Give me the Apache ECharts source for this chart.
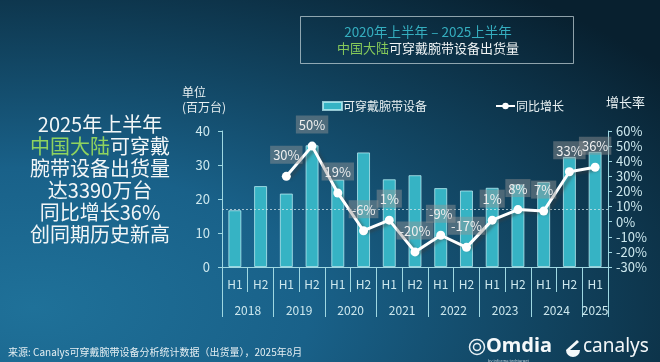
<!DOCTYPE html>
<html>
<head>
<meta charset="utf-8">
<script src="https://cdn.jsdelivr.net/npm/echarts@6/dist/echarts.min.js"></script>
<style>
  html, body { margin: 0; padding: 0; }
  body {
    width: 660px; height: 362px; overflow: hidden;
    background: radial-gradient(ellipse 120% 110% at 5% 85%, #1f7199 0%, #196189 35%, #11435f 65%, #08202f 100%);
  }
  #chart { width: 660px; height: 362px; }
</style>
</head>
<body>
<div id="chart"></div>
<script>
(function(){

    // 数据
    var halves = ['H1','H2','H1','H2','H1','H2','H1','H2','H1','H2','H1','H2','H1','H2','H1'];
    var years = ['2018','2019','2020','2021','2022','2023','2024','2025'];
    // 出货量（百万台）
    var shipments = [16.7, 23.8, 21.6, 35.8, 25.7, 33.7, 25.8, 27.0, 23.2, 22.5, 23.3, 24.3, 25.0, 32.4, 33.9];
    // 同比增长（%）
    var growth = [null, null, 30, 50, 19, -6, 1, -20, -9, -17, 1, 8, 7, 33, 36];
    var refLine = 17;

    var font = '"Noto Sans CJK SC", "Noto Sans", sans-serif';
    var axisColor = '#9fd8e2';
    var labelColor = '#cde8ee';

    // 年份轴：31个点（半个类目一格），年份放在每年的中点
    var yearSlots = [];
    for (var k = 0; k <= 30; k++) yearSlots.push('');
    for (var i = 0; i < years.length; i++) {
        var pos = i < 7 ? i * 4 + 2 : 29;
        yearSlots[pos] = years[i];
    }

    var myChart = echarts.init(document.getElementById('chart'), null, {renderer: 'canvas'});

    var option = {
        backgroundColor: 'transparent',
        textStyle: {fontFamily: font},
        animation: false,
        title: [{
            left: 423, top: 19, textAlign: 'center',
            text: '{a|2020年上半年 – 2025上半年}\n{g|中国大陆}{w|可穿戴腕带设备出货量}',
            textStyle: {
                fontWeight: 'normal',
                rich: {
                    a: {color: '#35aebf', fontSize: 13.5, lineHeight: 16, fontFamily: font, fontWeight: 'normal'},
                    g: {color: '#86c95a', fontSize: 13, lineHeight: 16, fontFamily: font, fontWeight: 'normal'},
                    w: {color: '#f0f4f5', fontSize: 13, lineHeight: 16, fontFamily: font, fontWeight: 'normal'}
                }
            }
        }, {
            left: 95, top: 108, textAlign: 'center',
            text: '{w|2025年上半年}\n{g|中国大陆}{w|可穿戴}\n{w|腕带设备出货量}\n{w|达3390万台}\n{w|同比增长36%}\n{w|创同期历史新高}',
            textStyle: {
                fontWeight: 'normal',
                rich: {
                    w: {color: '#f2f6f7', fontSize: 20, lineHeight: 22, fontFamily: font, fontWeight: 'normal'},
                    g: {color: '#8fd35e', fontSize: 20, lineHeight: 22, fontFamily: font, fontWeight: 'normal'}
                }
            }
        }, {
            left: 3, top: 342,
            text: '来源: Canalys可穿戴腕带设备分析统计数据（出货量），2025年8月',
            textStyle: {color: '#e4eef2', fontSize: 10, fontWeight: 'normal', fontFamily: font}
        }],
        graphic: [{
            type: 'rect', left: 298, top: 14,
            shape: {width: 273, height: 47},
            style: {fill: 'none', stroke: 'rgba(200,215,220,0.7)', lineWidth: 1}
        }, {
            type: 'group', left: 467, top: 336,
            children: [
                {type: 'circle', shape: {cx: 8, cy: 11, r: 7.5}, style: {fill: 'none', stroke: '#e8f0f4', lineWidth: 1.5}},
                {type: 'circle', shape: {cx: 8, cy: 11, r: 3.5}, style: {fill: 'none', stroke: '#e8f0f4', lineWidth: 1.5}},
                {type: 'text', x: 17, y: 0, style: {text: 'Omdia', fill: '#f4f8fa', font: 'bold 20px "Noto Sans", sans-serif'}},
                {type: 'text', x: 19, y: 23, style: {text: 'by informa techtarget', fill: '#c8d8e0', font: '4px "Noto Sans", sans-serif'}},
                {type: 'sector', shape: {cx: 104, cy: 14, r0: 0, r: 7, startAngle: 0, endAngle: Math.PI}, style: {fill: '#f4f8fa'}},
                {type: 'polygon', shape: {points: [[97, 14], [108, 4], [110, 6], [101, 14]]}, style: {fill: '#f4f8fa'}},
                {type: 'text', x: 114, y: 1, style: {text: 'canalys', fill: '#f4f8fa', font: '19px "Noto Sans", sans-serif'}}
            ]
        }],
        legend: {
            left: 317, top: 95, itemGap: 68,
            itemWidth: 19, itemHeight: 8,
            textStyle: {color: '#e8f0f2', fontSize: 12, fontFamily: font, padding: [0, 0, 0, -4]},
            data: [
                {name: '可穿戴腕带设备', icon: 'rect'},
                {name: '同比增长'}
            ]
        },
        grid: {left: 222, right: 52, top: 131, bottom: 95},
        xAxis: [{
            type: 'category',
            data: halves,
            axisLine: {onZero: false, lineStyle: {color: axisColor, width: 1}},
            axisTick: {show: true, inside: false, alignWithLabel: false, interval: 0, length: 25, lineStyle: {color: axisColor}},
            axisLabel: {color: labelColor, fontSize: 12, margin: 11, interval: 0}
        }, {
            type: 'category',
            position: 'bottom',
            boundaryGap: false,
            data: yearSlots,
            axisLine: {show: false, onZero: false},
            axisTick: {
                show: true,
                inside: false,
                length: 50,
                lineStyle: {color: axisColor},
                interval: function (idx) { return idx % 4 === 0 || idx === 30; }
            },
            axisLabel: {color: labelColor, fontSize: 12, margin: 37, interval: 0, showMinLabel: true, showMaxLabel: true}
        }],
        yAxis: [{
            type: 'value',
            min: 0, max: 40, interval: 10,
            name: '单位\n(百万台)',
            nameGap: 16,
            nameTextStyle: {color: '#e8f0f2', fontSize: 12, align: 'left', lineHeight: 15, padding: [0, 0, 0, -40]},
            axisLine: {show: true, lineStyle: {color: axisColor}},
            axisTick: {show: true, length: 4, lineStyle: {color: axisColor}},
            axisLabel: {color: labelColor, fontSize: 13, margin: 12},
            splitLine: {show: false}
        }, {
            type: 'value',
            min: -30, max: 60, interval: 10,
            name: '增长率',
            nameGap: 22,
            nameTextStyle: {color: '#e8f0f2', fontSize: 13, align: 'left', padding: [0, 0, 0, -2]},
            position: 'right',
            axisLine: {show: true, lineStyle: {color: axisColor}},
            axisTick: {show: true, length: 4, lineStyle: {color: axisColor}},
            axisLabel: {color: labelColor, fontSize: 13, margin: 8, formatter: '{value}%'},
            splitLine: {show: false}
        }],
        series: [{
            name: '可穿戴腕带设备',
            type: 'bar',
            barWidth: 13,
            data: shipments,
            itemStyle: {
                color: '#36b3c4',
                borderColor: 'rgba(190,240,245,0.75)',
                borderWidth: 1
            },
            markLine: {
                silent: true,
                symbol: 'none',
                label: {show: false},
                lineStyle: {color: 'rgba(220,235,240,0.7)', type: [2, 2], width: 1},
                data: [{yAxis: refLine}]
            }
        }, {
            name: '同比增长',
            type: 'line',
            yAxisIndex: 1,
            data: growth,
            symbol: 'circle',
            symbolSize: 9,
            lineStyle: {
                color: '#ffffff', width: 3,
                shadowColor: 'rgba(60,60,60,0.5)', shadowBlur: 3, shadowOffsetX: 3, shadowOffsetY: 2
            },
            itemStyle: {color: '#ffffff'},
            label: {
                show: true,
                position: 'top',
                distance: 8,
                formatter: '{c}%',
                color: '#eeeeee',
                fontSize: 13,
                fontFamily: font,
                backgroundColor: 'rgba(150,150,150,0.45)',
                padding: [3, 3, 2, 3]
            },
            z: 5
        }]
    };

    myChart.setOption(option);

})();
</script>
</body>
</html>
